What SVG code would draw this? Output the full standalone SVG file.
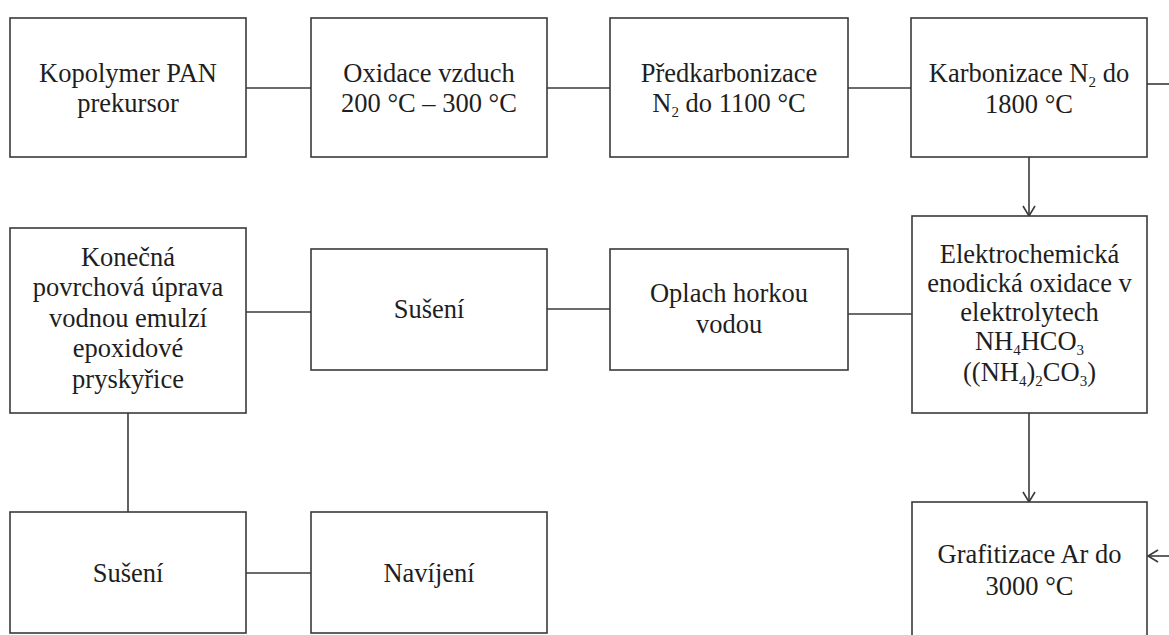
<svg xmlns="http://www.w3.org/2000/svg" width="1169" height="635" viewBox="0 0 1169 635">
<style>
.box{fill:#fff;stroke:#3a3a3a;stroke-width:1.6}
.ln{fill:none;stroke:#3a3a3a;stroke-width:1.6}
.t{font-family:"Liberation Serif","Times New Roman",serif;font-size:26.5px;fill:#1e1e1e;text-anchor:middle}
.s{font-size:15px}
</style>
<defs>
<marker id="arr" markerUnits="userSpaceOnUse" markerWidth="14" markerHeight="16" refX="11" refY="7" orient="auto" viewBox="0 0 14 16">
<path d="M1,1 L11,7 L1,13" fill="none" stroke="#3a3a3a" stroke-width="1.6"/>
</marker>
</defs>
<rect width="1169" height="635" fill="#fff"/>
<g id="connectors">
<line class="ln" x1="246" y1="88" x2="311" y2="88"/>
<line class="ln" x1="547" y1="88" x2="610" y2="88"/>
<line class="ln" x1="848" y1="88" x2="911" y2="88"/>
<line class="ln" x1="1147" y1="84" x2="1169" y2="84"/>
<line class="ln" x1="1029" y1="157" x2="1029" y2="216" marker-end="url(#arr)"/>
<line class="ln" x1="1029" y1="413" x2="1029" y2="502" marker-end="url(#arr)"/>
<line class="ln" x1="1169" y1="556" x2="1148" y2="556" marker-end="url(#arr)"/>
<line class="ln" x1="848" y1="314" x2="912" y2="314"/>
<line class="ln" x1="547" y1="309" x2="610" y2="309"/>
<line class="ln" x1="246" y1="312" x2="311" y2="312"/>
<line class="ln" x1="128" y1="413" x2="128" y2="512"/>
<line class="ln" x1="246" y1="573" x2="311" y2="573"/>
</g>
<g id="n1"><rect class="box" x="10" y="18" width="236" height="139"/>
<text class="t" x="128" y="82">Kopolymer PAN</text><text class="t" x="128" y="112">prekursor</text></g>
<g id="n2"><rect class="box" x="311" y="18" width="236" height="139"/>
<text class="t" x="429" y="82">Oxidace vzduch</text><text class="t" x="429" y="112">200 °C – 300 °C</text></g>
<g id="n3"><rect class="box" x="610" y="18" width="238" height="139"/>
<text class="t" x="729" y="82">Předkarbonizace</text><text class="t" x="729" y="112">N<tspan class="s" dy="5">2</tspan><tspan dy="-5"> do 1100 °C</tspan></text></g>
<g id="n4"><rect class="box" x="911" y="18" width="236" height="139"/>
<text class="t" x="1029" y="82">Karbonizace N<tspan class="s" dy="5">2</tspan><tspan dy="-5"> do</tspan></text><text class="t" x="1029" y="113">1800 °C</text></g>
<g id="n5"><rect class="box" x="912" y="216" width="235" height="197"/>
<text class="t" x="1029.5" y="263">Elektrochemická</text>
<text class="t" x="1029.5" y="292">enodická oxidace v</text>
<text class="t" x="1029.5" y="321">elektrolytech</text>
<text class="t" x="1029.5" y="350">NH<tspan class="s" dy="5">4</tspan><tspan dy="-5">HCO</tspan><tspan class="s" dy="5">3</tspan></text>
<text class="t" x="1029.5" y="381">((NH<tspan class="s" dy="5">4</tspan><tspan dy="-5">)</tspan><tspan class="s" dy="5">2</tspan><tspan dy="-5">CO</tspan><tspan class="s" dy="5">3</tspan><tspan dy="-5">)</tspan></text></g>
<g id="n6"><rect class="box" x="912" y="502" width="235" height="145"/>
<text class="t" x="1029.5" y="563">Grafitizace Ar do</text><text class="t" x="1029.5" y="595">3000 °C</text></g>
<g id="n7"><rect class="box" x="610" y="249" width="238" height="121"/>
<text class="t" x="729" y="302">Oplach horkou</text><text class="t" x="729" y="333">vodou</text></g>
<g id="n8"><rect class="box" x="311" y="249" width="236" height="121"/>
<text class="t" x="429" y="318">Sušení</text></g>
<g id="n9"><rect class="box" x="10" y="228" width="236" height="185"/>
<text class="t" x="128" y="266">Konečná</text>
<text class="t" x="128" y="296">povrchová úprava</text>
<text class="t" x="128" y="327">vodnou emulzí</text>
<text class="t" x="128" y="357">epoxidové</text>
<text class="t" x="128" y="388">pryskyřice</text></g>
<g id="n10"><rect class="box" x="10" y="512" width="236" height="121"/>
<text class="t" x="128" y="582">Sušení</text></g>
<g id="n11"><rect class="box" x="311" y="512" width="236" height="121"/>
<text class="t" x="429" y="582">Navíjení</text></g>
</svg>
